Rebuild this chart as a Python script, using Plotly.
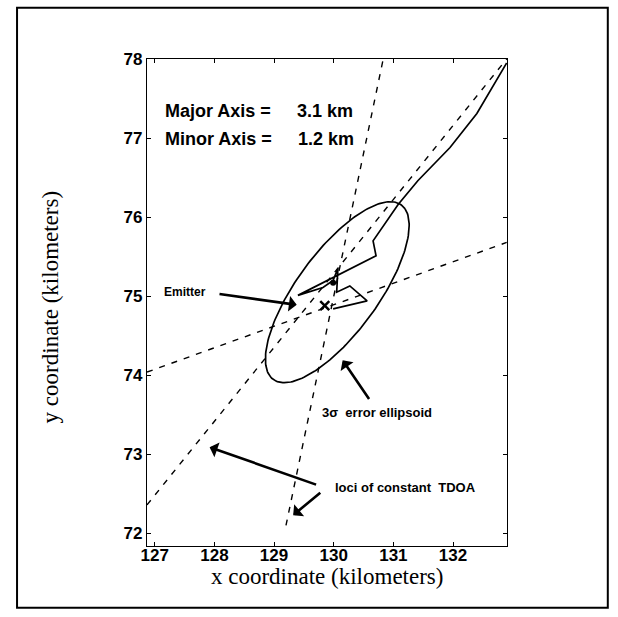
import numpy as np
import plotly.graph_objects as go

# ---- data (km) ----
x_ticks = [127, 128, 129, 130, 131, 132]
y_ticks = [72, 73, 74, 75, 76, 77, 78]

# loci of constant TDOA
locus1_x = [129.20, 130.83]
locus1_y = [72.10, 78.00]
locus2_x = [126.87, 132.90]
locus2_y = [72.36, 78.00]
locus3_x = [126.87, 132.90]
locus3_y = [74.04, 75.68]

# estimated emitter track
track_x = [132.90, 132.40, 131.95, 131.41, 131.08, 130.66, 130.71, 129.94, 129.40,
           129.82, 129.99, 130.07, 130.05, 130.27, 130.56, 129.99]
track_y = [77.95, 77.31, 76.88, 76.46, 76.16, 75.70, 75.51, 75.21, 75.01,
           75.11, 75.20, 75.35, 75.05, 75.13, 74.94, 74.84]

emitter_est_x = [129.85]
emitter_est_y = [74.88]
blob_x = [129.99]
blob_y = [75.17]

# 3-sigma error ellipse
ell_cx, ell_cy = 130.06, 75.05
major_axis_km = 3.1
minor_axis_km = 1.2
ell_angle_deg = 43.0

t = np.linspace(0, 2 * np.pi, 200)
a, b = major_axis_km / 2, minor_axis_km / 2
th = np.deg2rad(ell_angle_deg)
ell_x = ell_cx + a * np.cos(t) * np.cos(th) - b * np.sin(t) * np.sin(th)
ell_y = ell_cy + a * np.cos(t) * np.sin(th) + b * np.sin(t) * np.cos(th)

fig = go.Figure()
dash = "6px,7px"
for lx, ly in [(locus1_x, locus1_y), (locus2_x, locus2_y), (locus3_x, locus3_y)]:
    fig.add_trace(go.Scatter(x=lx, y=ly, mode="lines",
                             line=dict(color="black", width=1.4, dash=dash),
                             showlegend=False, hoverinfo="skip"))
fig.add_trace(go.Scatter(x=ell_x, y=ell_y, mode="lines",
                         line=dict(color="black", width=1.7), showlegend=False))
fig.add_trace(go.Scatter(x=track_x, y=track_y, mode="lines",
                         line=dict(color="black", width=1.7), showlegend=False))
fig.add_trace(go.Scatter(x=emitter_est_x, y=emitter_est_y, mode="markers",
                         marker=dict(symbol="x-thin", size=9,
                                     line=dict(color="black", width=2.5)),
                         showlegend=False))
fig.add_trace(go.Scatter(x=blob_x, y=blob_y, mode="markers",
                         marker=dict(symbol="circle", size=6, color="black"),
                         showlegend=False))

SANS = "Liberation Sans, Arial, sans-serif"
SERIF = "Liberation Serif, Times New Roman, serif"

ann = []
def txt(x, y, s, size, anchor="left"):
    ann.append(dict(x=x, y=y, xref="x", yref="y", text=s, showarrow=False,
                    xanchor=anchor, yanchor="middle",
                    font=dict(family=SANS, size=size, color="black", weight="bold")))

def arrow(x0, y0, x1, y1):
    ann.append(dict(x=x1, y=y1, ax=x0, ay=y0, xref="x", yref="y",
                    axref="x", ayref="y", text="", showarrow=True,
                    arrowhead=1, arrowsize=1.0, arrowwidth=2.6, arrowcolor="black"))

txt(127.13, 77.34, "Major Axis =", 18)
txt(129.35, 77.34, "3.1 km", 18)
txt(127.13, 76.99, "Minor Axis =", 18)
txt(129.37, 76.99, "1.2 km", 18)
txt(127.12, 75.05, "Emitter", 12)
txt(129.77, 73.53, "3σ  error ellipsoid", 13)
txt(129.99, 72.58, "loci of constant  TDOA", 13)

arrow(128.06, 75.03, 129.38, 74.89)
arrow(130.61, 73.68, 130.15, 74.19)
arrow(129.73, 72.61, 127.92, 73.09)
arrow(129.80, 72.53, 129.32, 72.23)

# axis titles
ann.append(dict(x=0.5, y=-0.063, xref="paper", yref="paper",
                text="x coordinate (kilometers)", showarrow=False,
                xanchor="center", yanchor="middle",
                font=dict(family=SERIF, size=23, color="black")))
ann.append(dict(x=-0.268, y=0.489, xref="paper", yref="paper",
                text="y coordinate (kilometers)", showarrow=False, textangle=-90,
                xanchor="center", yanchor="middle",
                font=dict(family=SERIF, size=23, color="black")))

fig.update_layout(
    width=618, height=617,
    margin=dict(l=147, r=111, t=59, b=71),
    paper_bgcolor="white", plot_bgcolor="white",
    annotations=ann,
    shapes=[dict(type="rect", xref="paper", yref="paper",
                 x0=-0.361, x1=1.28, y0=-0.127, y1=1.105,
                 line=dict(color="black", width=2))],
)
axis_common = dict(showgrid=False, zeroline=False, showline=True, linecolor="black",
                   linewidth=1.3, mirror="ticks", ticks="inside", ticklen=4,
                   tickcolor="black",
                   tickfont=dict(family=SANS, size=17, color="black", weight="bold"))
fig.update_xaxes(range=[126.87, 132.905], tickvals=x_ticks, ticklabelstandoff=-7,
                 ticktext=[str(v) for v in x_ticks], **axis_common)
fig.update_yaxes(range=[71.84, 78.0], tickvals=y_ticks,
                 ticktext=[str(v) for v in y_ticks], **axis_common)

fig.write_html("out.html")
